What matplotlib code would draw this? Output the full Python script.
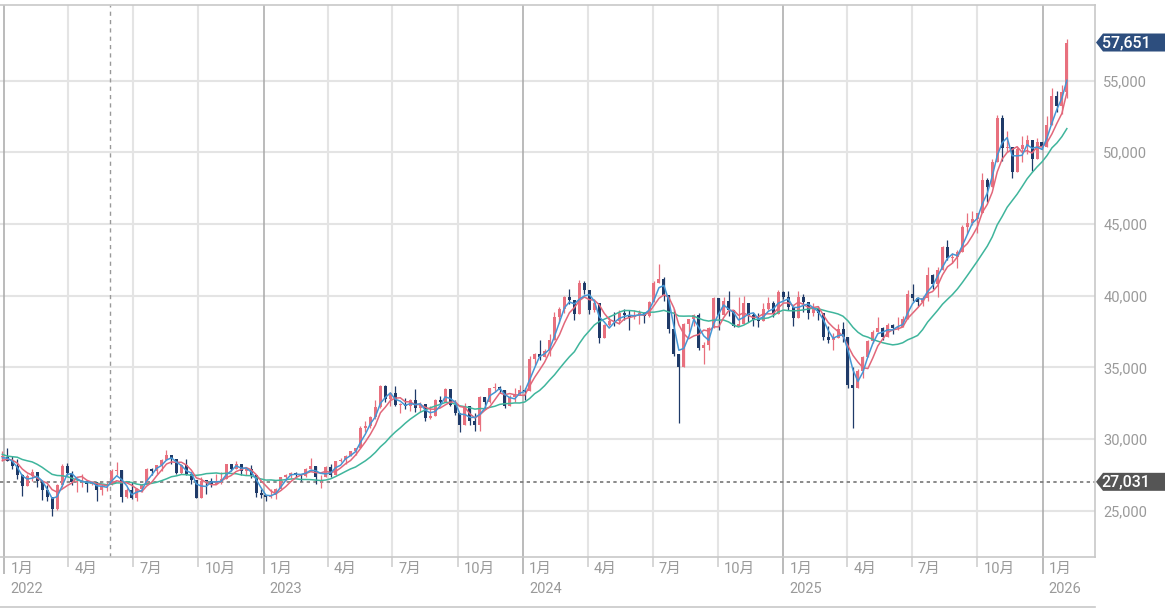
import numpy as np
import pandas as pd
import matplotlib
matplotlib.use("Agg")
import matplotlib.pyplot as plt
import matplotlib.dates as mdates
from matplotlib.patches import Polygon
from matplotlib.lines import Line2D
from matplotlib.transforms import blended_transform_factory

plt.rcParams['font.family'] = ['Roboto', 'Noto Sans CJK JP', 'DejaVu Sans']

# weekly closes before the visible range (only feed the moving averages)
warmup_close = [30500, 30249, 28771, 28049, 29069, 28805, 28893, 29612,
                29610, 29746, 28752, 28030, 28438, 28546, 28783]

# weekly candles, week of 2021-12-27 .. week of 2026-02-02
close_2021 = [28792]
high_2021 = [29200]
low_2021 = [28500]

close_2022 = [28479, 28124, 27522, 26717, 27440, 27696, 27122, 26476, 25985, 25163,
              26827, 28149, 27666, 26985, 27093, 27105, 26848, 27003, 26427, 26739,
              26781, 27761, 27824, 25963, 26491, 25935, 26517, 26788, 27914, 27801,
              28175, 28547, 28930, 28641, 27650, 28214, 27567, 27153, 25937, 27116,
              27090, 26890, 27105, 27199, 28263, 27899, 28283, 27777, 27901, 27527,
              26235, 26094]
high_2022 = [29390, 28800, 28600, 27600, 27600, 27900, 27500, 26900, 26800, 25700,
             26900, 28300, 28338, 27800, 27200, 27550, 27100, 27100, 27000, 26900,
             27000, 27900, 28400, 27000, 26600, 27000, 26600, 26900, 28000, 28000,
             28200, 28600, 29222, 28900, 28500, 28300, 28600, 27700, 26600, 27400,
             27100, 27300, 27600, 27700, 28300, 28100, 28500, 28300, 28000, 28200,
             27400, 26500]
low_2022 = [28480, 27900, 27200, 26044, 26900, 27100, 26700, 25775, 25700, 24681,
            25100, 26700, 27500, 26800, 26300, 26700, 26300, 26800, 25700, 26100,
            26400, 27000, 27500, 25600, 25900, 25800, 25700, 26300, 26800, 27500,
            27600, 27800, 28700, 28300, 27600, 27600, 27500, 26900, 25900, 26200,
            26200, 26700, 26900, 26900, 27200, 27800, 27900, 27500, 27500, 27300,
            26000, 25900]

close_2023 = [25973, 26120, 26553, 27382, 27509, 27670, 27513, 27453, 27927, 28143,
              27334, 27385, 28041, 27518, 28493, 28564, 28856, 29157, 29388, 30808,
              30916, 31524, 32265, 33706, 32781, 33189, 32388, 32391, 32304, 32759,
              32192, 32473, 31450, 31624, 32710, 32606, 33533, 32402, 31858, 30995,
              32315, 31259, 30991, 32950, 32568, 33585, 33625, 33431, 32307, 32970,
              33169, 33464]
high_2023 = [26000, 26500, 26600, 27400, 27550, 27700, 27700, 27600, 28000, 28700,
             28000, 27500, 28100, 28300, 28500, 28700, 28900, 29200, 29400, 30900,
             31300, 31600, 32700, 33800, 33772, 33300, 33700, 32500, 32900, 32800,
             33500, 32600, 32300, 32300, 32800, 33000, 33600, 33200, 32700, 31800,
             32500, 32100, 31800, 33000, 32800, 33600, 33900, 33700, 33400, 33100,
             33600, 33800]
low_2023 = [25661, 25900, 25800, 26700, 27100, 27300, 27400, 27100, 27400, 27900,
            26900, 26600, 27400, 27400, 27500, 28400, 28300, 28900, 28900, 29600,
            30500, 30800, 31400, 32200, 32600, 32300, 32300, 31800, 32100, 32000,
            31900, 31900, 31300, 31400, 31900, 32400, 32800, 32300, 31700, 30500,
            31200, 31000, 30600, 30600, 32100, 32500, 33300, 33200, 32200, 32300,
            32600, 33100]

close_2024 = [33377, 35577, 35963, 35751, 36158, 36897, 38487, 39098, 39910, 39688,
              38707, 40888, 40369, 38992, 39523, 37068, 37934, 38236, 38229, 38787,
              38646, 38488, 38683, 38814, 38596, 39583, 40912, 41190, 40063, 37667,
              35909, 35025, 38062, 38364, 38647, 36391, 36581, 37723, 39829, 38635,
              39605, 38981, 37913, 38053, 39500, 38642, 38283, 38208, 39091, 39470,
              38701, 40281, 39894]
high_2024 = [33600, 35800, 36000, 36900, 36300, 37300, 38900, 39200, 40000, 40472,
             39500, 41087, 41000, 40300, 39800, 39200, 38000, 38500, 38900, 39000,
             39100, 39000, 39000, 39000, 38900, 39600, 41000, 42224, 41300, 40000,
             39100, 35200, 38100, 38400, 38700, 38800, 36800, 37800, 39900, 38700,
             39900, 40300, 39000, 39900, 40000, 39500, 38800, 38800, 39500, 39900,
             39600, 40400, 40300]
low_2024 = [32700, 33600, 35200, 35500, 35800, 35800, 36900, 38100, 38800, 39400,
            38300, 39500, 40100, 38700, 38900, 36700, 37300, 37900, 37900, 38000,
            38300, 37600, 38400, 38000, 38100, 38500, 39600, 40900, 39600, 37400,
            35800, 31156, 35700, 37500, 37900, 36200, 35250, 36200, 37800, 37600,
            38900, 38600, 37800, 37900, 38000, 38200, 37900, 37800, 38400, 39000,
            38500, 38900, 39800]

close_2025 = [39190, 38451, 39931, 39572, 38787, 39149, 38776, 37155, 36887, 37053,
              37677, 37120, 33781, 33586, 34730, 35705, 36830, 37503, 37753, 37160,
              37965, 37741, 37834, 38403, 40150, 39810, 39570, 39819, 41456, 40800,
              41820, 43378, 42633, 42718, 43018, 44768, 45045, 45354, 45769, 48088,
              47582, 49299, 52411, 50276, 50376, 48625, 50253, 50491, 50836, 49507,
              50750, 50339]
high_2025 = [40300, 39300, 40300, 40100, 39500, 39500, 39300, 38600, 37900, 37400,
             38000, 38200, 36200, 35000, 34900, 35800, 36900, 37600, 38500, 37800,
             38100, 38000, 38500, 38600, 40400, 40800, 39900, 40000, 42000, 41500,
             42000, 43500, 43900, 43000, 43200, 44900, 45800, 45900, 45800, 48580,
             48200, 49500, 52600, 52600, 51500, 50400, 50400, 51100, 51200, 50200,
             51000, 50600]
low_2025 = [39000, 37900, 38800, 38900, 38400, 38600, 38300, 36900, 36700, 36200,
            37200, 36800, 33600, 30792, 33900, 34300, 35800, 36700, 37500, 36900,
            37100, 37300, 37600, 37900, 38400, 39600, 39300, 39300, 39600, 40500,
            39900, 41800, 42500, 42300, 41900, 43400, 44300, 44900, 44400, 47500,
            46500, 48900, 50200, 49400, 50000, 48200, 48700, 49300, 49900, 48700,
            49900, 50200]

close_2026 = [51900, 53900, 53200, 54200, 57651]
high_2026 = [52500, 54500, 54300, 54700, 57900]
low_2026 = [50700, 51900, 52800, 52700, 53800]

ref_price = 27031
last_price = 57651
marker_date = "2022-05-29"
month_names = {1: "1月", 4: "4月", 7: "7月", 10: "10月"}

close = np.array(close_2021 + close_2022 + close_2023 + close_2024 + close_2025 + close_2026, float)
high = np.array(high_2021 + high_2022 + high_2023 + high_2024 + high_2025 + high_2026, float)
low = np.array(low_2021 + low_2022 + low_2023 + low_2024 + low_2025 + low_2026, float)
opn = np.concatenate([[warmup_close[-1]], close[:-1]])
high = np.maximum(high, np.maximum(opn, close))
low = np.minimum(low, np.minimum(opn, close))

weeks = pd.date_range("2021-12-27", periods=len(close), freq="7D") + pd.Timedelta(days=2)
x = mdates.date2num(weeks)

full = pd.Series(warmup_close + list(close))
n0 = len(warmup_close)
ma_short = full.rolling(3).mean().values[n0:]
ma_mid = full.rolling(5).mean().values[n0:]
ma_long = full.rolling(15).mean().values[n0:]

UP = "#e8707e"
DOWN = "#1f3a68"

fig = plt.figure(figsize=(11.67, 6.08), dpi=100)
ax = fig.add_axes([0, 51.3 / 608, 1095 / 1167, 552.2 / 608])

# grid
for v in range(25000, 60000, 5000):
    ax.axhline(v, color="#e4e4e4", lw=1.5, zorder=0)
quarters = pd.date_range("2022-01-01", "2026-01-01", freq="QS")
for q in quarters:
    if q.month == 1:
        ax.axvline(q, color="#a8a8a8", lw=1.1, zorder=0.5)
    else:
        ax.axvline(q, color="#e4e4e4", lw=1.5, zorder=0)

ax.axvline(pd.Timestamp(marker_date), color="#999999", lw=1, ls=(0, (3, 3)), zorder=1)
ax.axhline(ref_price, color="#777777", lw=1.2, ls=(0, (2, 2)), zorder=1)

# candles
up = close >= opn
colors = np.where(up, UP, DOWN)
ax.vlines(x, low, high, colors=colors, lw=0.9, zorder=3)
bottoms = np.minimum(opn, close)
heights = np.maximum(np.abs(close - opn), 40)
ax.bar(x, heights, bottom=bottoms, width=4.2, color=colors, linewidth=0, zorder=3)

# moving averages
ax.plot(x, ma_long, color="#3fb59c", lw=1.1, zorder=4)
ax.plot(x, ma_mid, color="#e2677a", lw=1.1, zorder=4)
ax.plot(x, ma_short, color="#4596d4", lw=1.1, zorder=4)

t0 = mdates.date2num(pd.Timestamp("2022-01-01"))
ax.set_xlim(t0 - 6.3, t0 + 1534.6)
ax.set_ylim(21813, 60300)

for s in ["top", "right", "bottom"]:
    ax.spines[s].set_color("#c8c8c8")
    ax.spines[s].set_linewidth(1.2)
ax.spines["left"].set_visible(False)

ax.yaxis.tick_right()
ax.set_yticks(range(25000, 60000, 5000))
ax.set_yticklabels([f"{v:,}" for v in range(25000, 60000, 5000)])
ax.tick_params(axis="y", length=0, pad=6, labelsize=10.5, labelcolor="#9a9a9a")

jans = [q for q in quarters if q.month == 1]
others = [q for q in quarters if q.month != 1]
ax.set_xticks(jans)
ax.set_xticks(others, minor=True)
ax.set_xticklabels([])
ax.tick_params(axis="x", which="major", length=12, color="#a8a8a8", width=1.1)
ax.tick_params(axis="x", which="minor", length=7, color="#d0d0d0", width=1.2)

for q in quarters:
    ax.annotate(month_names[q.month], xy=(q, 0), xycoords=("data", "axes fraction"),
                xytext=(6, -5), textcoords="offset pixels", ha="left", va="top",
                fontsize=10.5, color="#9a9a9a", annotation_clip=False)
    if q.month == 1:
        ax.annotate(str(q.year), xy=(q, 0), xycoords=("data", "axes fraction"),
                    xytext=(6, -25), textcoords="offset pixels", ha="left", va="top",
                    fontsize=10.5, color="#9a9a9a", annotation_clip=False)

# price tags on the right
tr = blended_transform_factory(ax.transAxes, ax.transData)
px = 1 / 1095
ph = 1000 / 14.34


def price_tag(value, color):
    h = 9 * ph
    pts = [(1 + 1 * px, value), (1 + 8 * px, value + h), (1 + 70 * px, value + h),
           (1 + 70 * px, value - h), (1 + 8 * px, value - h)]
    ax.add_patch(Polygon(pts, closed=True, transform=tr, facecolor=color,
                         edgecolor="none", clip_on=False, zorder=6))
    ax.text(1 + 31 * px, value, f"{value:,}", transform=tr, ha="center", va="center",
            color="white", fontsize=11.5, fontweight="medium", zorder=7, clip_on=False)


price_tag(last_price, "#2d4e7e")
price_tag(ref_price, "#555555")

fig.add_artist(Line2D([0, 1095 / 1167], [1 / 608, 1 / 608], color="#c8c8c8", lw=1.2,
                      transform=fig.transFigure))

fig.savefig("out.png", dpi=100)
